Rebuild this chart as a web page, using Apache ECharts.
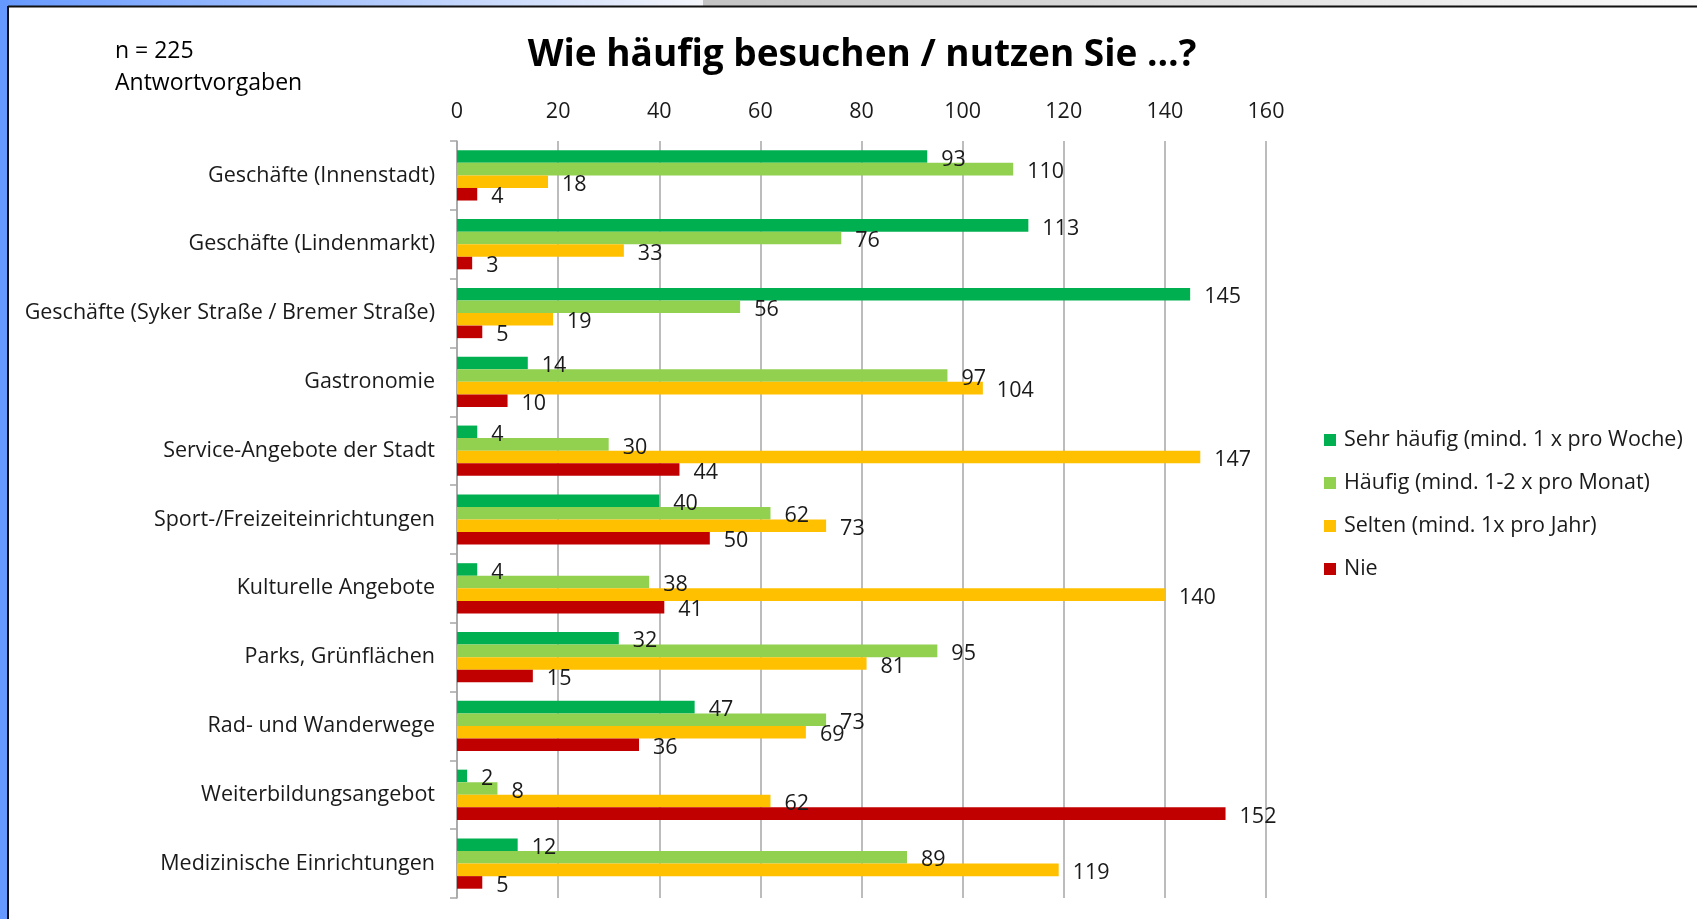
<!DOCTYPE html>
<html><head><meta charset="utf-8">
<script src="https://cdn.jsdelivr.net/npm/echarts@6/dist/echarts.min.js"></script>
<style>html,body{margin:0;padding:0;background:#fff}#c{width:1697px;height:919px}</style>
</head><body><div id="c"></div>
<script>
const categories = ["Geschäfte (Innenstadt)","Geschäfte (Lindenmarkt)","Geschäfte (Syker Straße / Bremer Straße)","Gastronomie","Service-Angebote der Stadt","Sport-/Freizeiteinrichtungen","Kulturelle Angebote","Parks, Grünflächen","Rad- und Wanderwege","Weiterbildungsangebot","Medizinische Einrichtungen"];
const seriesNames = ["Sehr häufig (mind. 1 x pro Woche)","Häufig (mind. 1-2 x pro Monat)","Selten (mind. 1x pro Jahr)","Nie"];
const sehrHaeufig = [93,113,145,14,4,40,4,32,47,2,12];
const haeufig = [110,76,56,97,30,62,38,95,73,8,89];
const selten = [18,33,19,104,147,73,140,81,69,62,119];
const nie = [4,3,5,10,44,50,41,15,36,152,5];
const xTicks = [0,20,40,60,80,100,120,140,160];
const colors = ["#00B050","#92D050","#FFC000","#C00000"];
const values = [sehrHaeufig, haeufig, selten, nie];
const FONT = "'Open Sans', sans-serif";

const chart = echarts.init(document.getElementById('c'), null, {renderer:'canvas'});
chart.setOption({
  animation:false,
  backgroundColor:'#ffffff',
  title:{text:'Wie häufig besuchen / nutzen Sie …?', left:857, top:32, textAlign:'center',
    textStyle:{fontFamily:FONT, fontSize:37, fontWeight:'bold', color:'#000'}},
  graphic:[
    {type:'rect', shape:{x:0,y:0,width:703,height:6}, style:{fill:new echarts.graphic.LinearGradient(0,0,1,0,[{offset:0,color:'#6699ff'},{offset:1,color:'#f4f6fb'}])}},
    {type:'rect', shape:{x:703,y:0,width:994,height:6}, style:{fill:new echarts.graphic.LinearGradient(0,0,1,0,[{offset:0,color:'#c4c4c4'},{offset:1,color:'#fbfbfb'}])}},
    {type:'rect', shape:{x:0,y:0,width:8,height:919}, style:{fill:'#6699ff'}},
    {type:'line', shape:{x1:8,y1:6.5,x2:1697,y2:6.5}, style:{stroke:'#111',lineWidth:2}},
    {type:'line', shape:{x1:8,y1:6,x2:8,y2:919}, style:{stroke:'#111',lineWidth:2}},
    {type:'text', left:115, top:40, style:{text:'n = 225', fontFamily:FONT, fontSize:23, fill:'#000'}},
    {type:'text', left:115, top:72, style:{text:'Antwortvorgaben', fontFamily:FONT, fontSize:23, fill:'#000'}}
  ],
  legend:{orient:'vertical', left:1319, top:424, icon:'rect', itemWidth:12, itemHeight:12, itemGap:21,
    data:seriesNames, textStyle:{fontFamily:FONT, fontSize:21.5, color:'#1a1a1a', lineHeight:20, padding:[0,0,0,3]}},
  grid:{left:457, right:431, top:141, bottom:21, containLabel:false},
  xAxis:{type:'value', position:'top', min:0, max:160, interval:20,
    axisLine:{show:false}, axisTick:{show:false},
    splitLine:{show:true, lineStyle:{color:'#a6a6a6', width:1.5}},
    axisLabel:{fontFamily:FONT, fontSize:21.5, color:'#1a1a1a', margin:18,
      formatter:v=>xTicks.includes(v)?String(v):''}},
  yAxis:{type:'category', inverse:true, data:categories,
    axisLine:{show:true, lineStyle:{color:'#a6a6a6', width:1.5}},
    axisTick:{show:true, length:7, lineStyle:{color:'#a6a6a6', width:1.5}},
    axisLabel:{fontFamily:FONT, fontSize:21.5, color:'#1a1a1a', margin:22}},
  series: values.map((d,i)=>({
    name:seriesNames[i], type:'bar', data:d, barGap:'0%', barCategoryGap:'27%',
    itemStyle:{color:colors[i]},
    label:{show:true, position:'right', distance:14, offset:[0,3], fontFamily:FONT, fontSize:21.5, color:'#1a1a1a'}
  }))
});
</script></body></html>
